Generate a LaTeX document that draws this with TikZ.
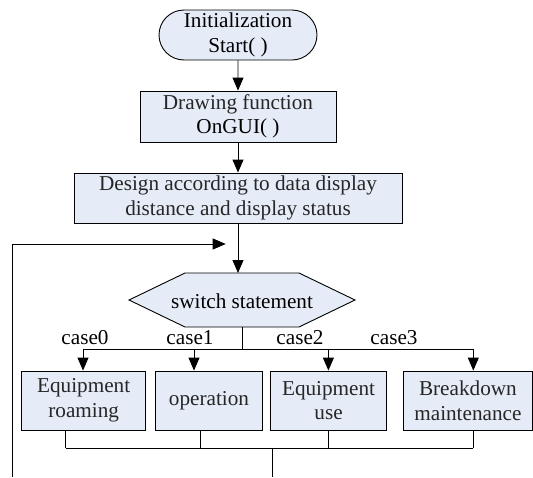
\documentclass[tikz,border=0pt]{standalone}
\usepackage{fontspec}
\setmainfont{Liberation Serif}
\usetikzlibrary{arrows.meta,shapes.misc}
\definecolor{boxfill}{RGB}{230,236,247}
\definecolor{txt}{RGB}{38,38,38}
\begin{document}
\begin{tikzpicture}[x=1pt,y=-1pt,
  every node/.style={font=\fontsize{21.2}{24.5}\selectfont, text=txt, inner sep=0pt, align=center},
  procbox/.style={draw=black, line width=0.9pt, fill=boxfill, minimum height=50},
  termbox/.style={rounded rectangle, draw=black, line width=0.9pt, fill=boxfill, minimum width=158, minimum height=50},
  link/.style={line width=0.9pt, draw=black},
  arr/.style={link, -{Triangle[length=13pt,width=11pt]}},
  caselbl/.style={anchor=base, text=black}
]
\useasboundingbox (0,0) rectangle (533,477);

% top chain
\node[termbox, text=black] (start) at (238,35) {Initialization\\Start( )};
\node[procbox, minimum width=196, minimum height=51] (drawf) at (238,116.5) {Drawing function\\\textcolor{black}{OnGUI( )}};
\node[procbox, minimum width=328] (design) at (238,198) {Design according to data display\\distance and display status};

\draw[arr] (start) -- (drawf);
\draw[arr] (drawf) -- (design);

% switch hexagon
\draw[link, fill=boxfill] (129,300) -- (185,273) -- (299,273) -- (355,300) -- (299,327) -- (185,327) -- cycle;
\node[text=black] (sw) at (242,301) {switch statement};
\coordinate (hxtop) at (238,273);
\coordinate (hxbot) at (242,327);
\draw[arr] (design.south) -- (hxtop);

% loop back line
\coordinate (lb) at (12.3,477);
\coordinate (lt) at (12.3,244);
\coordinate (le) at (225.7,244);
\draw[arr] (lb) -- (lt) -- (le);

% branch
\coordinate (bj) at (242,349);
\coordinate (br1) at (83,349);
\coordinate (br2) at (194,349);
\coordinate (br3) at (328.4,349);
\coordinate (br4) at (473.3,349);
\draw[link] (hxbot) -- (bj);
\draw[link] (br1) -- (br4);

% case boxes
\node[procbox, minimum width=124, minimum height=59] (b1) at (83.7,400.5) {Equipment\\roaming};
\node[procbox, minimum width=106.6, minimum height=59] (b2) at (209,400.5) {operation};
\node[procbox, minimum width=116.2, minimum height=59] (b3) at (328.6,400.5) {Equipment\\use};
\node[procbox, minimum width=129.2, minimum height=59] (b4) at (467.9,400.5) {Breakdown\\maintenance};

\draw[arr] (br1) -- (br1 |- b1.north);
\draw[arr] (br2) -- (br2 |- b2.north);
\draw[arr] (br3) -- (br3 |- b3.north);
\draw[arr] (br4) -- (br4 |- b4.north);

% case labels
\node[caselbl] (c0) at (85,344) {case0};
\node[caselbl] (c1) at (190,344) {case1};
\node[caselbl] (c2) at (300,344) {case2};
\node[caselbl] (c3) at (394,344) {case3};

% merge
\coordinate (j1) at (65.7,448);
\coordinate (j2) at (200.3,448);
\coordinate (j3) at (328.4,448);
\coordinate (j4) at (473.3,448);
\coordinate (mj) at (272.3,448);
\coordinate (mb) at (272.3,477);
\draw[link] (j1 |- b1.south) -- (j1);
\draw[link] (j2 |- b2.south) -- (j2);
\draw[link] (j3 |- b3.south) -- (j3);
\draw[link] (j4 |- b4.south) -- (j4);
\draw[link] (j1) -- (j4);
\draw[link] (mj) -- (mb);
\end{tikzpicture}
\end{document}
